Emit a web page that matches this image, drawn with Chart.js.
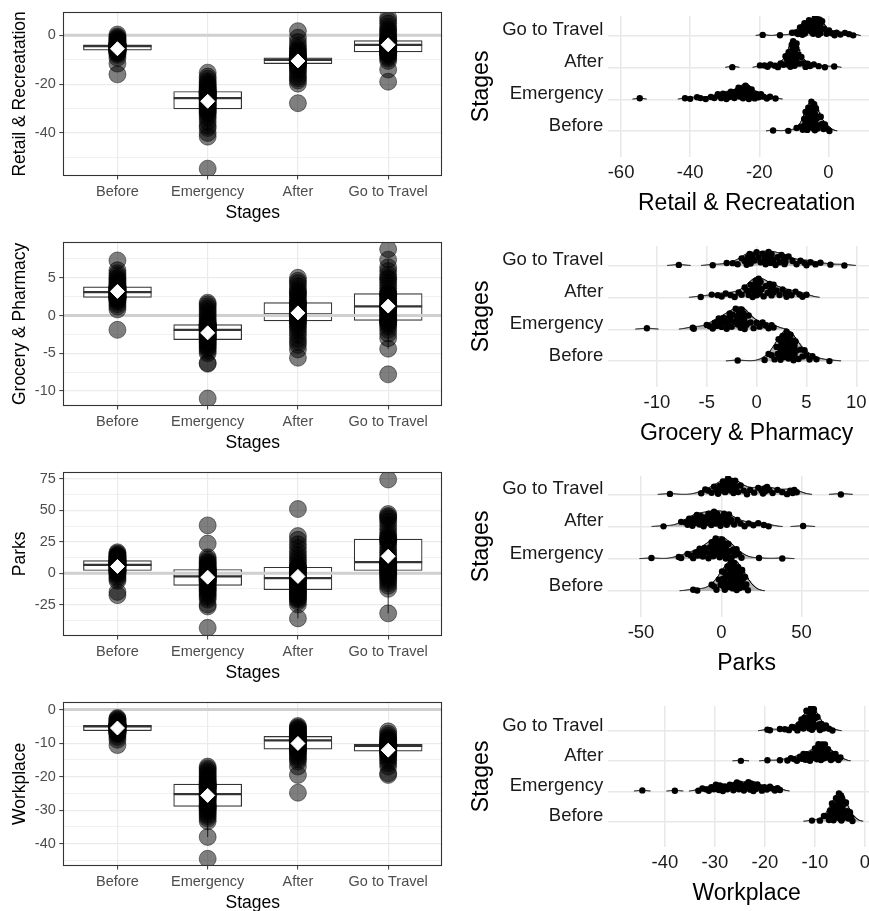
<!DOCTYPE html>
<html><head><meta charset="utf-8">
<script src="https://cdn.jsdelivr.net/npm/chart.js@4.4.1/dist/chart.umd.min.js"></script>
<style>
html,body{margin:0;padding:0;background:#fff;}
body{position:relative;width:869px;height:911px;overflow:hidden;}
</style></head><body>
<script>
const stages = ['Before', 'Emergency', 'After', 'Go to Travel'];

// ---------- Retail & Recreatation ----------
const retailBefore = [-16.0,-11.6,-9.2,-8.0,-7.4,-7.0,-6.8,-6.6,-6.4,-6.3,-6.2,-6.1,-6.1,-6.0,-5.9,-5.8,-5.6,-5.5,-5.3,-5.1,-4.9,-4.7,-4.6,-4.5,-4.4,-4.3,-4.3,-4.2,-4.1,-4.1,-4.0,-4.0,-3.9,-3.9,-3.9,-3.8,-3.6,-3.4,-3.1,-2.8,-2.5,-2.2,-1.8,-1.4,-1.0,-0.5,0.3];
const retailEmergency = [-54.6,-41.5,-40.0,-38.0,-37.0,-35.5,-34.0,-33.0,-32.0,-31.5,-31.0,-30.5,-30.0,-29.5,-29.0,-28.6,-28.2,-27.8,-27.2,-26.8,-26.4,-26.0,-25.9,-25.7,-25.4,-25.0,-24.7,-24.5,-24.3,-24.0,-23.8,-23.6,-23.4,-23.2,-23.0,-23.0,-22.6,-22.2,-21.8,-21.3,-20.8,-20.2,-19.5,-18.8,-17.8,-16.9,-15.3];
const retailAfter = [-27.8,-19.8,-18.5,-17.6,-16.8,-15.5,-14.6,-13.8,-13.0,-12.4,-12.0,-11.7,-11.5,-11.2,-11.0,-10.8,-10.7,-10.6,-10.5,-10.4,-10.3,-10.2,-10.2,-10.1,-10.0,-10.0,-9.9,-9.8,-9.7,-9.6,-9.5,-9.4,-9.3,-9.3,-9.2,-9.2,-8.8,-8.3,-7.8,-7.2,-6.6,-6.0,-5.3,-4.2,-2.8,-1.0,1.7];
const retailGoTo = [-19.0,-14.0,-10.5,-9.5,-8.8,-8.2,-7.8,-7.5,-7.2,-7.0,-6.9,-6.8,-6.8,-6.5,-6.0,-5.6,-5.3,-5.0,-4.8,-4.6,-4.4,-4.2,-4.0,-3.9,-3.7,-3.5,-3.3,-3.1,-2.9,-2.7,-2.6,-2.5,-2.4,-2.3,-2.2,-2.2,-1.8,-1.2,-0.5,0.2,1.0,1.8,2.4,3.5,4.8,6.0,7.2];
const retailQ1 = [-6.1, -30.1, -11.6, -6.8];
const retailMedian = [-4.4, -25.7, -10.1, -3.9];
const retailQ3 = [-3.9, -23.0, -9.2, -2.2];
const retailLow = [-9.2, -40.0, -14.6, -10.5];
const retailHigh = [-1.0, -15.3, -6.0, 3.5];
const retailMean = [-5.5, -27.0, -10.5, -3.9];
const retailTicks = [-40, -20, 0];
const retailRidgeTicks = [-60, -40, -20, 0];

// ---------- Grocery & Pharmacy ----------
const groceryBefore = [-1.9,0.8,1.2,1.5,1.8,2.0,2.1,2.2,2.3,2.3,2.4,2.4,2.4,2.5,2.6,2.6,2.7,2.8,2.8,2.9,3.0,3.0,3.1,3.1,3.2,3.2,3.3,3.3,3.4,3.5,3.5,3.6,3.6,3.7,3.8,3.8,3.9,4.0,4.2,4.4,4.6,4.8,5.0,5.3,5.6,6.0,7.3];
const groceryEmergency = [-11.0,-6.4,-6.3,-5.0,-4.7,-4.4,-4.2,-4.0,-3.8,-3.6,-3.5,-3.3,-3.1,-3.0,-2.9,-2.8,-2.7,-2.6,-2.5,-2.4,-2.2,-2.1,-2.0,-1.9,-1.8,-1.7,-1.6,-1.6,-1.5,-1.5,-1.4,-1.3,-1.3,-1.2,-1.2,-1.2,-1.0,-0.8,-0.6,-0.3,0.0,0.3,0.6,0.9,1.2,1.5,1.7];
const groceryAfter = [-5.6,-4.5,-3.9,-3.5,-3.1,-2.6,-2.2,-1.8,-1.5,-1.2,-1.0,-0.8,-0.6,-0.5,-0.4,-0.3,-0.2,-0.1,0.0,0.0,0.1,0.1,0.2,0.2,0.3,0.4,0.5,0.7,0.9,1.1,1.3,1.4,1.5,1.6,1.7,1.7,2.0,2.3,2.6,2.9,3.0,3.2,3.5,3.9,4.3,4.6,5.0];
const groceryGoTo = [-7.8,-4.4,-3.0,-2.4,-1.9,-1.5,-1.2,-1.0,-0.9,-0.8,-0.7,-0.7,-0.6,-0.4,-0.2,0.0,0.2,0.4,0.6,0.8,0.9,1.0,1.1,1.2,1.3,1.4,1.5,1.7,1.9,2.1,2.3,2.5,2.7,2.8,2.9,2.9,3.2,3.6,4.0,4.4,4.8,5.0,5.4,5.9,6.4,7.4,8.8];
const groceryQ1 = [2.4, -3.2, -0.7, -0.65];
const groceryMedian = [3.1, -1.9, 0.15, 1.2];
const groceryQ3 = [3.8, -1.2, 1.7, 2.9];
const groceryLow = [0.8, -5.0, -3.9, -4.4];
const groceryHigh = [5.6, 1.7, 5.0, 7.4];
const groceryMean = [3.2, -2.3, 0.35, 1.25];
const groceryTicks = [-10, -5, 0, 5];
const groceryRidgeTicks = [-10, -5, 0, 5, 10];

// ---------- Parks ----------
const parksBefore = [-17.5,-15.0,-6.0,-4.5,-3.0,-1.5,-0.5,0.5,1.0,1.5,1.8,2.0,2.2,2.8,3.3,3.8,4.3,4.8,5.3,5.7,6.0,6.2,6.4,6.6,6.9,7.2,7.5,7.8,8.1,8.4,8.7,9.0,9.3,9.6,9.9,10.1,10.5,11.0,11.5,12.0,12.5,13.0,13.5,14.0,14.8,15.6,16.6];
const parksEmergency = [-43.5,-26.5,-25.0,-21.0,-19.0,-17.5,-16.0,-14.5,-13.5,-12.5,-11.5,-10.5,-9.0,-8.0,-7.0,-6.5,-6.0,-5.5,-5.0,-4.5,-4.0,-3.5,-3.0,-2.6,-2.0,-1.5,-1.0,-0.5,0.0,0.5,1.0,1.5,2.0,2.5,2.8,3.0,3.5,4.5,5.5,6.5,7.5,8.5,9.5,11.0,12.6,23.5,38.0];
const parksAfter = [-36.0,-25.0,-22.5,-21.0,-20.0,-19.0,-18.0,-17.0,-16.0,-15.2,-14.5,-13.6,-12.8,-12.0,-11.0,-10.0,-9.0,-8.0,-7.0,-6.2,-5.5,-5.0,-4.5,-3.9,-3.3,-2.5,-1.5,-0.5,0.5,1.0,1.8,2.6,3.4,4.2,4.6,4.8,6.0,8.0,10.0,12.0,14.5,17.0,20.0,23.0,26.5,29.5,51.0];
const parksGoTo = [-32.0,-12.5,-10.0,-8.0,-6.0,-4.5,-3.0,-2.0,-1.0,0.0,1.0,1.8,2.4,3.0,3.6,4.2,5.0,5.8,6.5,7.0,7.6,8.0,8.3,8.7,9.5,10.5,12.0,14.0,16.0,18.0,20.5,23.0,25.0,26.0,27.0,27.2,28.5,30.0,32.0,35.0,38.0,41.0,43.0,44.5,45.5,47.0,74.5];
const parksQ1 = [2.1, -9.7, -13.2, 2.1];
const parksMedian = [6.6, -2.6, -3.9, 8.7];
const parksQ3 = [10.0, 2.9, 4.7, 27.1];
const parksLow = [-6.0, -26.5, -36.0, -32.0];
const parksHigh = [16.6, 12.6, 29.5, 47.0];
const parksMean = [5.3, -3.2, -2.6, 13.4];
const parksTicks = [-25, 0, 25, 50, 75];
const parksRidgeTicks = [-50, 0, 50];

// ---------- Workplace ----------
const workBefore = [-10.6,-9.0,-8.2,-7.5,-7.2,-7.0,-6.8,-6.6,-6.5,-6.4,-6.4,-6.3,-6.3,-6.2,-6.0,-5.8,-5.7,-5.5,-5.4,-5.3,-5.2,-5.2,-5.1,-5.0,-5.0,-4.9,-4.9,-4.9,-4.8,-4.8,-4.8,-4.8,-4.7,-4.7,-4.7,-4.7,-4.6,-4.5,-4.4,-4.2,-4.0,-3.8,-3.6,-3.3,-3.0,-2.8,-2.5];
const workEmergency = [-44.5,-38.0,-33.3,-32.5,-31.8,-31.2,-30.7,-30.2,-29.8,-29.5,-29.2,-29.0,-28.8,-28.4,-28.0,-27.5,-27.0,-26.6,-26.3,-26.0,-25.8,-25.6,-25.4,-25.2,-25.0,-24.6,-24.2,-23.8,-23.5,-23.3,-23.1,-22.9,-22.7,-22.5,-22.3,-22.1,-21.8,-21.5,-21.1,-20.6,-20.1,-19.6,-19.0,-18.5,-18.0,-17.5,-17.0];
const workAfter = [-24.8,-19.5,-17.0,-15.5,-14.8,-14.2,-13.6,-13.0,-12.6,-12.3,-12.0,-11.9,-11.7,-11.4,-11.0,-10.6,-10.3,-10.0,-9.8,-9.6,-9.5,-9.4,-9.3,-9.2,-9.1,-9.0,-8.9,-8.8,-8.7,-8.6,-8.5,-8.4,-8.3,-8.2,-8.0,-8.0,-7.8,-7.6,-7.4,-7.1,-6.8,-6.5,-6.2,-5.9,-5.6,-5.3,-4.9];
const workGoTo = [-19.5,-19.0,-17.0,-16.0,-15.2,-14.6,-14.0,-13.5,-13.2,-12.9,-12.7,-12.5,-12.3,-12.1,-11.9,-11.7,-11.5,-11.4,-11.3,-11.2,-11.1,-11.0,-10.9,-10.8,-10.8,-10.7,-10.7,-10.6,-10.6,-10.5,-10.5,-10.5,-10.4,-10.4,-10.4,-10.4,-10.2,-10.0,-9.8,-9.5,-9.2,-9.0,-8.7,-8.3,-7.8,-7.2,-6.5];
const workQ1 = [-6.3, -28.9, -11.8, -12.4];
const workMedian = [-5.0, -25.2, -9.2, -10.8];
const workQ3 = [-4.7, -22.2, -8.0, -10.4];
const workLow = [-8.2, -38.0, -17.0, -15.2];
const workHigh = [-2.5, -17.0, -4.9, -7.8];
const workMean = [-5.5, -25.6, -10.1, -12.1];
const workTicks = [-40, -30, -20, -10, 0];
const workRidgeTicks = [-40, -30, -20, -10, 0];

// ---------- panel definitions ----------
const panels = [
  {title:'Retail & Recreatation', groups:[retailBefore,retailEmergency,retailAfter,retailGoTo],
   q1:retailQ1, med:retailMedian, q3:retailQ3, lo:retailLow, hi:retailHigh, mean:retailMean,
   ticks:retailTicks, step:20, range:[-57.4, 9.45],
   ridgeTicks:retailRidgeTicks, ridgeRange:[-63.7, 16.4], ridgeY:[0.196, 4.62]},
  {title:'Grocery & Pharmacy', groups:[groceryBefore,groceryEmergency,groceryAfter,groceryGoTo],
   q1:groceryQ1, med:groceryMedian, q3:groceryQ3, lo:groceryLow, hi:groceryHigh, mean:groceryMean,
   ticks:groceryTicks, step:5, range:[-11.93, 9.72],
   ridgeTicks:groceryRidgeTicks, ridgeRange:[-14.87, 12.87], ridgeY:[0.196, 4.62]},
  {title:'Parks', groups:[parksBefore,parksEmergency,parksAfter,parksGoTo],
   q1:parksQ1, med:parksMedian, q3:parksQ3, lo:parksLow, hi:parksHigh, mean:parksMean,
   ticks:parksTicks, step:25, range:[-49.6, 80.3],
   ridgeTicks:parksRidgeTicks, ridgeRange:[-70.4, 102], ridgeY:[0.2, 4.58]},
  {title:'Workplace', groups:[workBefore,workEmergency,workAfter,workGoTo],
   q1:workQ1, med:workMedian, q3:workQ3, lo:workLow, hi:workHigh, mean:workMean,
   ticks:workTicks, step:10, range:[-46.5, 2.2],
   ridgeTicks:workRidgeTicks, ridgeRange:[-51.3, 4.0], ridgeY:[0.16, 4.83]}
];

const FONT = '"Liberation Sans", Arial, Helvetica, sans-serif';
Chart.defaults.font.family = FONT;

function mkCanvas(left, top, w, h){
  const c = document.createElement('canvas');
  c.width = w; c.height = h;
  c.style.cssText = `position:absolute;left:${left}px;top:${top}px;width:${w}px;height:${h}px;`;
  document.body.appendChild(c);
  return c;
}

const framePlugin = {
  id: 'frame',
  afterDatasetsDraw(chart, args, opts){
    const {ctx, chartArea:a} = chart;
    ctx.save();
    ctx.strokeStyle = opts.color || '#333';
    ctx.lineWidth = 1.1;
    ctx.strokeRect(Math.round(a.left)+0.5, Math.round(a.top)+0.5, Math.round(a.right-a.left)-1, Math.round(a.bottom-a.top));
    ctx.restore();
  }
};

function boxChart(canvas, p){
  const half = p.step/2;
  const yTickVals = [];
  for (let v = Math.ceil(p.range[0]/half)*half; v <= p.range[1]+1e-9; v += half) yTickVals.push(Math.round(v*1000)/1000);
  const isMajor = v => p.ticks.some(t => Math.abs(t - v) < 1e-6);

  const whisker = [];
  stages.forEach((s,i)=>{
    whisker.push({x:i+1,y:p.lo[i]},{x:i+1,y:p.q1[i]},{x:i+1,y:null},{x:i+1,y:p.q3[i]},{x:i+1,y:p.hi[i]},{x:i+1,y:null});
  });

  new Chart(canvas, {
    type: 'scatter',
    plugins: [framePlugin],
    data: { datasets: [
      { type:'bar', data: stages.map((s,i)=>({x:i+1, y:[p.q1[i], p.q3[i]]})),
        backgroundColor:'#ffffff', borderColor:'#333333', borderWidth:1.2, borderSkipped:false,
        barThickness:68, order:5 },
      { type:'line', data: whisker, borderColor:'#333333', borderWidth:1, pointRadius:0, spanGaps:false, order:6 },
      { type:'scatter', data: stages.map((s,i)=>({x:i+1, y:p.med[i]})),
        pointStyle:'line', pointRadius:34, pointBorderWidth:2.2, pointBorderColor:'#333333', order:4 },
      { type:'line', data:[{x:0.4,y:0},{x:4.6,y:0}], borderColor:'#d0d0d0', borderWidth:3, pointRadius:0, order:3 },
      { type:'scatter', data: p.groups.flatMap((g,i)=>g.map(v=>({x:i+1, y:v}))),
        pointRadius:8.5, pointBackgroundColor:'rgba(0,0,0,0.5)', pointBorderColor:'rgba(0,0,0,0.45)', pointBorderWidth:1, order:2 },
      { type:'scatter', data: stages.map((s,i)=>({x:i+1, y:p.mean[i]})),
        pointStyle:'rectRot', pointRadius:7, pointBackgroundColor:'#ffffff', pointBorderColor:'#ffffff', pointBorderWidth:1, order:1 }
    ]},
    options: {
      responsive:false, animation:false, events:[],
      layout:{ autoPadding:false, padding:{left:9.5, right:7.7, top:10.5, bottom:6.2} },
      plugins:{ legend:{display:false}, tooltip:{enabled:false}, frame:{color:'#333333'} },
      scales:{
        x:{ type:'linear', min:0.4, max:4.6, offset:false,
            afterBuildTicks: s => { s.ticks = stages.map((_,i)=>({value:i+1})); },
            afterFit: s => { s.height = 48.3; },
            ticks:{ callback: v => stages[Math.round(v)-1] || '', color:'#4d4d4d', font:{size:14.5}, padding:3.5, autoSkip:false, maxRotation:0 },
            grid:{ color:'#ebebeb', lineWidth:1.2, drawTicks:true, tickLength:4, tickColor:'#333333', tickWidth:1, offset:false },
            border:{ display:false },
            title:{ display:true, text:'Stages', color:'#000', font:{size:17.5}, padding:0 } },
        y:{ type:'linear', min:p.range[0], max:p.range[1],
            afterBuildTicks: s => { s.ticks = yTickVals.map(v=>({value:v})); },
            afterFit: s => { s.width = 53.8; },
            ticks:{ callback: v => isMajor(v) ? String(v) : '', color:'#4d4d4d', font:{size:14.5}, padding:3.5, autoSkip:false },
            grid:{ color:'#ebebeb', lineWidth: c => (c.tick && isMajor(c.tick.value)) ? 1.2 : 0.7,
                   drawTicks:true, tickLength:4, tickWidth:1,
                   tickColor: c => (c.tick && isMajor(c.tick.value)) ? '#333333' : 'rgba(0,0,0,0)' },
            border:{ display:false },
            title:{ display:true, text:p.title, color:'#000', font:{size:17.5}, padding:0 } }
      }
    }
  });
}

function quantile(sorted, q){
  const h = (sorted.length-1)*q, lo = Math.floor(h);
  const hi = Math.min(lo+1, sorted.length-1);
  return sorted[lo] + (sorted[hi]-sorted[lo])*(h-lo);
}
function bwNrd0(arr){
  const s = [...arr].sort((a,b)=>a-b), n = s.length;
  const m = s.reduce((a,b)=>a+b,0)/n;
  const sd = Math.sqrt(s.reduce((a,b)=>a+(b-m)*(b-m),0)/(n-1));
  const iqr = quantile(s,0.75) - quantile(s,0.25);
  const lo = Math.min(sd, iqr/1.34) || sd || 1;
  return 0.9*lo*Math.pow(n,-0.2);
}
function kde(arr, h, x){
  let s = 0;
  for (const v of arr){ const z = (x-v)/h; s += Math.exp(-0.5*z*z); }
  return s/(arr.length*h*Math.sqrt(2*Math.PI));
}

function ridgeChart(canvas, p){
  const h = p.groups.map(bwNrd0).reduce((a,b)=>a+b,0)/p.groups.length;
  const N = 800, xs = [];
  for (let k=0;k<=N;k++) xs.push(p.ridgeRange[0] + (p.ridgeRange[1]-p.ridgeRange[0])*k/N);
  const dens = p.groups.map(g => xs.map(x => kde(g,h,x)));
  const fmax = Math.max(...dens.map(d => Math.max(...d)));
  const SCALE = 0.97, REL_MIN = 0.01;

  const datasets = p.groups.map((g,i)=>({
    type:'line',
    data: xs.map((x,k)=>({x, y: dens[i][k] >= REL_MIN*fmax ? i+1 + SCALE*dens[i][k]/fmax : null})),
    fill:{ value:i+1 }, backgroundColor:'#b8b8b8', borderColor:'#000000', borderWidth:1,
    pointRadius:0, spanGaps:false, tension:0, order:10+i
  }));
  datasets.push({
    type:'scatter',
    data: p.groups.flatMap((g,i)=>g.map((v,j)=>{
      const u = ((j+1)*0.6180339887 + i*0.37) % 1;
      return {x:v, y:i+1 + (0.02+0.96*u)*SCALE*kde(g,h,v)/fmax};
    })),
    pointRadius:3.2, pointBackgroundColor:'#000000', pointBorderWidth:0, order:1
  });

  new Chart(canvas, {
    type:'scatter',
    data:{ datasets },
    options:{
      responsive:false, animation:false, events:[],
      layout:{ autoPadding:false, padding:{left:27.9, right:0, top:13.2, bottom:12.2} },
      plugins:{ legend:{display:false}, tooltip:{enabled:false} },
      scales:{
        x:{ type:'linear', min:p.ridgeRange[0], max:p.ridgeRange[1],
            afterBuildTicks: s => { s.ticks = p.ridgeTicks.map(v=>({value:v})); },
            afterFit: s => { s.height = 61; },
            ticks:{ callback: v => String(v), color:'#1a1a1a', font:{size:18.5}, padding:5.4, autoSkip:false, maxRotation:0 },
            grid:{ color:'#e8e8e8', lineWidth:1.5, drawTicks:false },
            border:{ display:false },
            title:{ display:true, text:p.title, color:'#000', font:{size:23}, padding:0 } },
        y:{ type:'linear', min:p.ridgeY[0], max:p.ridgeY[1],
            afterBuildTicks: s => { s.ticks = stages.map((_,i)=>({value:i+1})); },
            afterFit: s => { s.width = 140.4; },
            // labels sit just above their baseline (two-line label, empty second line)
            ticks:{ callback: v => [stages[Math.round(v)-1] || '', ''], color:'#1a1a1a',
                    font:{size:18.5, lineHeight:'11px'}, padding:5, autoSkip:false },
            grid:{ color:'#e8e8e8', lineWidth:1.5, drawTicks:false },
            border:{ display:false },
            title:{ display:true, text:'Stages', color:'#000', font:{size:23}, padding:0 } }
      }
    }
  });
}

panels.forEach((p, k) => {
  boxChart(mkCanvas(0, k*230, 450, 230), p);
  ridgeChart(mkCanvas(440, k*230, 445, 230), p);
});
</script>
</body></html>
